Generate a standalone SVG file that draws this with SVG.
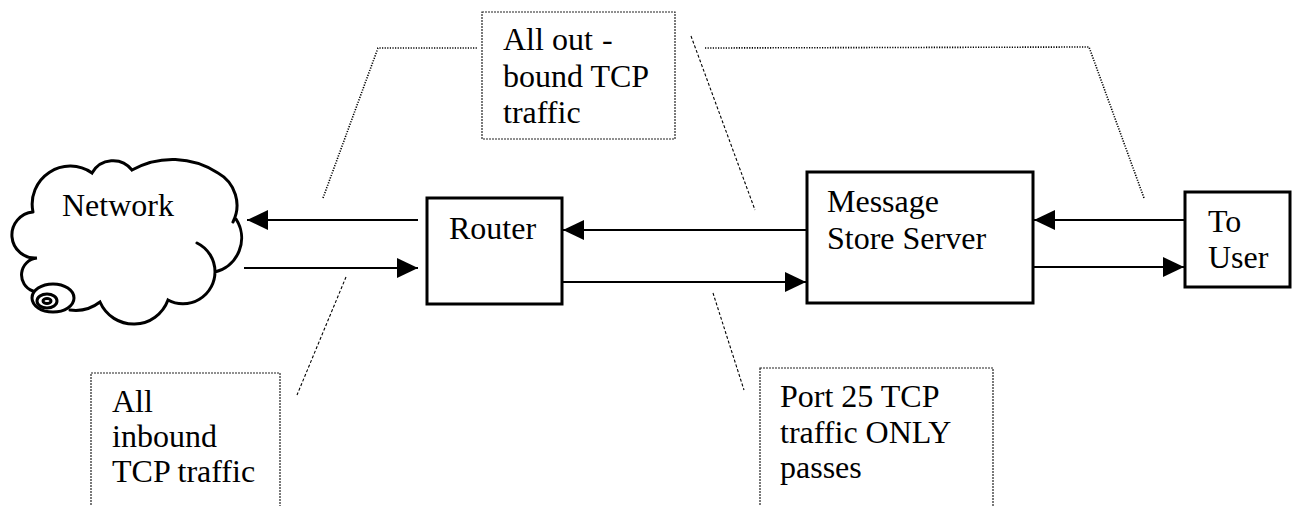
<svg xmlns="http://www.w3.org/2000/svg" width="1301" height="506" viewBox="0 0 1301 506">
<style>
.t{font-family:"Liberation Serif","Times New Roman",serif;font-size:32px;fill:#000}
.box{fill:#fff;stroke:#000;stroke-width:3}
.note{fill:#fff;stroke:#222;stroke-width:1.2;stroke-dasharray:2 1}
.arr{stroke:#000;stroke-width:2;fill:none}
.dot{stroke:#000;stroke-width:1.6;fill:none;stroke-dasharray:1.2 1.4}
.dash{stroke:#000;stroke-width:1.1;fill:none;stroke-dasharray:3 2}
.cloud{fill:none;stroke:#000;stroke-width:3;stroke-linecap:round}
</style>
<defs>
<marker id="ah" markerUnits="userSpaceOnUse" markerWidth="22" markerHeight="20" refX="21" refY="10" orient="auto">
<path d="M0,0 L21,10 L0,20 Z" fill="#000"/>
</marker>
</defs>
<rect width="1301" height="506" fill="#fff"/>

<g id="network">
<path d="M33,212 A38,38 0 0 1 92,173 A24,24 0 0 1 132,170 A83,83 0 0 1 218,173 A37,37 0 0 1 233,222 M236,219 A35,35 0 0 1 215,272 A32,32 0 0 1 168,300 A36.6,36.6 0 0 1 100,302 A40,40 0 0 1 68,310 M33,291 A17,17 0 0 1 37,258 A23,23 0 0 1 33,212" fill="#fff" stroke="none"/>
<path class="cloud" d="M33,212 A38,38 0 0 1 92,173 A24,24 0 0 1 132,170 A83,83 0 0 1 218,173 A37,37 0 0 1 233,222 M236,219 A35,35 0 0 1 215,272 A32,32 0 0 1 168,300 A36.6,36.6 0 0 1 100,302 A40,40 0 0 1 70,310 M33,291 A17,17 0 0 1 37,258 A23,23 0 0 1 33,212 M197,243 A32,32 0 0 1 215,272"/>
<ellipse class="cloud" cx="53" cy="298" rx="21" ry="14"/>
<ellipse class="cloud" cx="47" cy="301" rx="10" ry="7"/>
<ellipse class="cloud" cx="47" cy="301" rx="4" ry="2.5"/>
<text class="t" x="62" y="216">Network</text>
</g>

<g id="router">
<rect class="box" x="427" y="198" width="135" height="106"/>
<text class="t" x="449" y="239">Router</text>
</g>

<g id="mss">
<rect class="box" x="807" y="172" width="226" height="131"/>
<text class="t" x="827" y="212">Message</text>
<text class="t" x="827" y="249">Store Server</text>
</g>

<g id="user">
<rect class="box" x="1185" y="192" width="105" height="95"/>
<text class="t" x="1208" y="232">To</text>
<text class="t" x="1208" y="268">User</text>
</g>

<g id="note-outbound">
<rect class="note" x="482" y="12" width="193" height="127"/>
<text class="t" x="503" y="50">All out</text>
<text class="t" x="602" y="50">-</text>
<text class="t" x="503" y="87">bound TCP</text>
<text class="t" x="503" y="123">traffic</text>
</g>

<g id="note-inbound">
<rect class="note" x="91" y="373" width="189" height="150"/>
<text class="t" x="112" y="412">All</text>
<text class="t" x="112" y="447">inbound</text>
<text class="t" x="112" y="482">TCP traffic</text>
</g>

<g id="note-port25">
<rect class="note" x="760" y="368" width="233" height="155"/>
<text class="t" x="780" y="407">Port 25 TCP</text>
<text class="t" x="780" y="443">traffic ONLY</text>
<text class="t" x="780" y="478">passes</text>
</g>

<g id="connectors">
<line class="arr" x1="418" y1="220" x2="247" y2="220" marker-end="url(#ah)"/>
<line class="arr" x1="244" y1="268" x2="418" y2="268" marker-end="url(#ah)"/>
<line class="arr" x1="807" y1="230" x2="563" y2="230" marker-end="url(#ah)"/>
<line class="arr" x1="563" y1="282" x2="806" y2="282" marker-end="url(#ah)"/>
<line class="arr" x1="1185" y1="220" x2="1034" y2="220" marker-end="url(#ah)"/>
<line class="arr" x1="1032" y1="267" x2="1184" y2="267" marker-end="url(#ah)"/>
<polyline class="dot" points="323,198 378,48 478,48"/>
<polyline class="dot" points="705,48 1089,47 1144,198"/>
<line class="dash" x1="691" y1="36" x2="755" y2="210"/>
<line class="dash" x1="346" y1="277" x2="297" y2="395"/>
<line class="dash" x1="713" y1="293" x2="744" y2="390"/>
</g>
</svg>
